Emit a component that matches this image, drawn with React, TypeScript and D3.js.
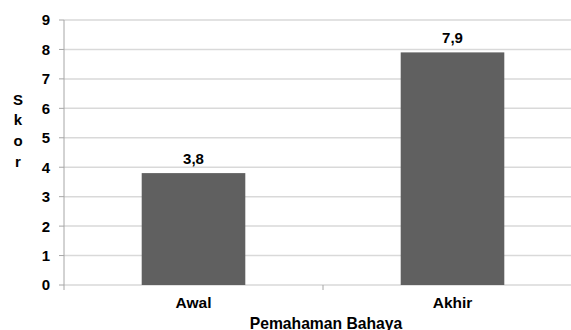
import React from "react";
import * as d3 from "d3";

const categories = ["Awal", "Akhir"];
const values = [3.8, 7.9];
const valueLabels = ["3,8", "7,9"];
const yTicks = [0, 1, 2, 3, 4, 5, 6, 7, 8, 9];
const yTitle = ["S", "k", "o", "r"];
const xTitle = "Pemahaman Bahaya";

export default function App() {
  const W = 571, H = 330;
  const left = 64, right = 582, top = 20, bottom = 285;
  const x = d3.scaleBand<string>().domain(categories).range([left, right]).paddingInner(0.6).paddingOuter(0.3);
  const xc = d3.scaleBand<string>().domain(categories).range([left, right]);
  const y = d3.scaleLinear().domain([0, 9]).range([bottom, top]);
  const font = "'Liberation Sans', Arial, sans-serif";
  return (
    <svg width={W} height={H} style={{ position: "absolute", left: 0, top: 0 }} fontFamily={font}>
      <rect width={W} height={H} fill="#fff" />
      {yTicks.map((t) => (
        <g key={t}>
          <line x1={left} x2={right} y1={y(t)} y2={y(t)} stroke="#d9d9d9" strokeWidth={1.5} />
          <line x1={left - 5} x2={left} y1={y(t)} y2={y(t)} stroke="#a6a6a6" />
          <text x={50} y={y(t)} dy="0.36em" textAnchor="end" fontSize={15} fontWeight="bold" fill="#000">{t}</text>
        </g>
      ))}
      <line x1={left} x2={left} y1={top} y2={bottom + 5} stroke="#a6a6a6" />
      {categories.map((c, i) => (
        <g key={c}>
          <rect x={x(c)} y={y(values[i])} width={x.bandwidth()} height={bottom - y(values[i])} fill="#606060" />
          <text x={x(c)! + x.bandwidth() / 2} y={y(values[i]) - 9} textAnchor="middle" fontSize={15} fontWeight="bold">{valueLabels[i]}</text>
          <text x={xc(c)! + xc.bandwidth() / 2} y={308} textAnchor="middle" fontSize={15.5} fontWeight="bold">{c}</text>
          {i > 0 && <line x1={xc(c)} x2={xc(c)} y1={bottom} y2={bottom + 5} stroke="#a6a6a6" />}
        </g>
      ))}
      {yTitle.map((ch, i) => (
        <text key={i} x={18} y={104.5 + i * 20.8} textAnchor="middle" fontSize={15} fontWeight="bold">{ch}</text>
      ))}
      <text x={326} y={329} textAnchor="middle" fontSize={15.7} fontWeight="bold">{xTitle}</text>
    </svg>
  );
}
